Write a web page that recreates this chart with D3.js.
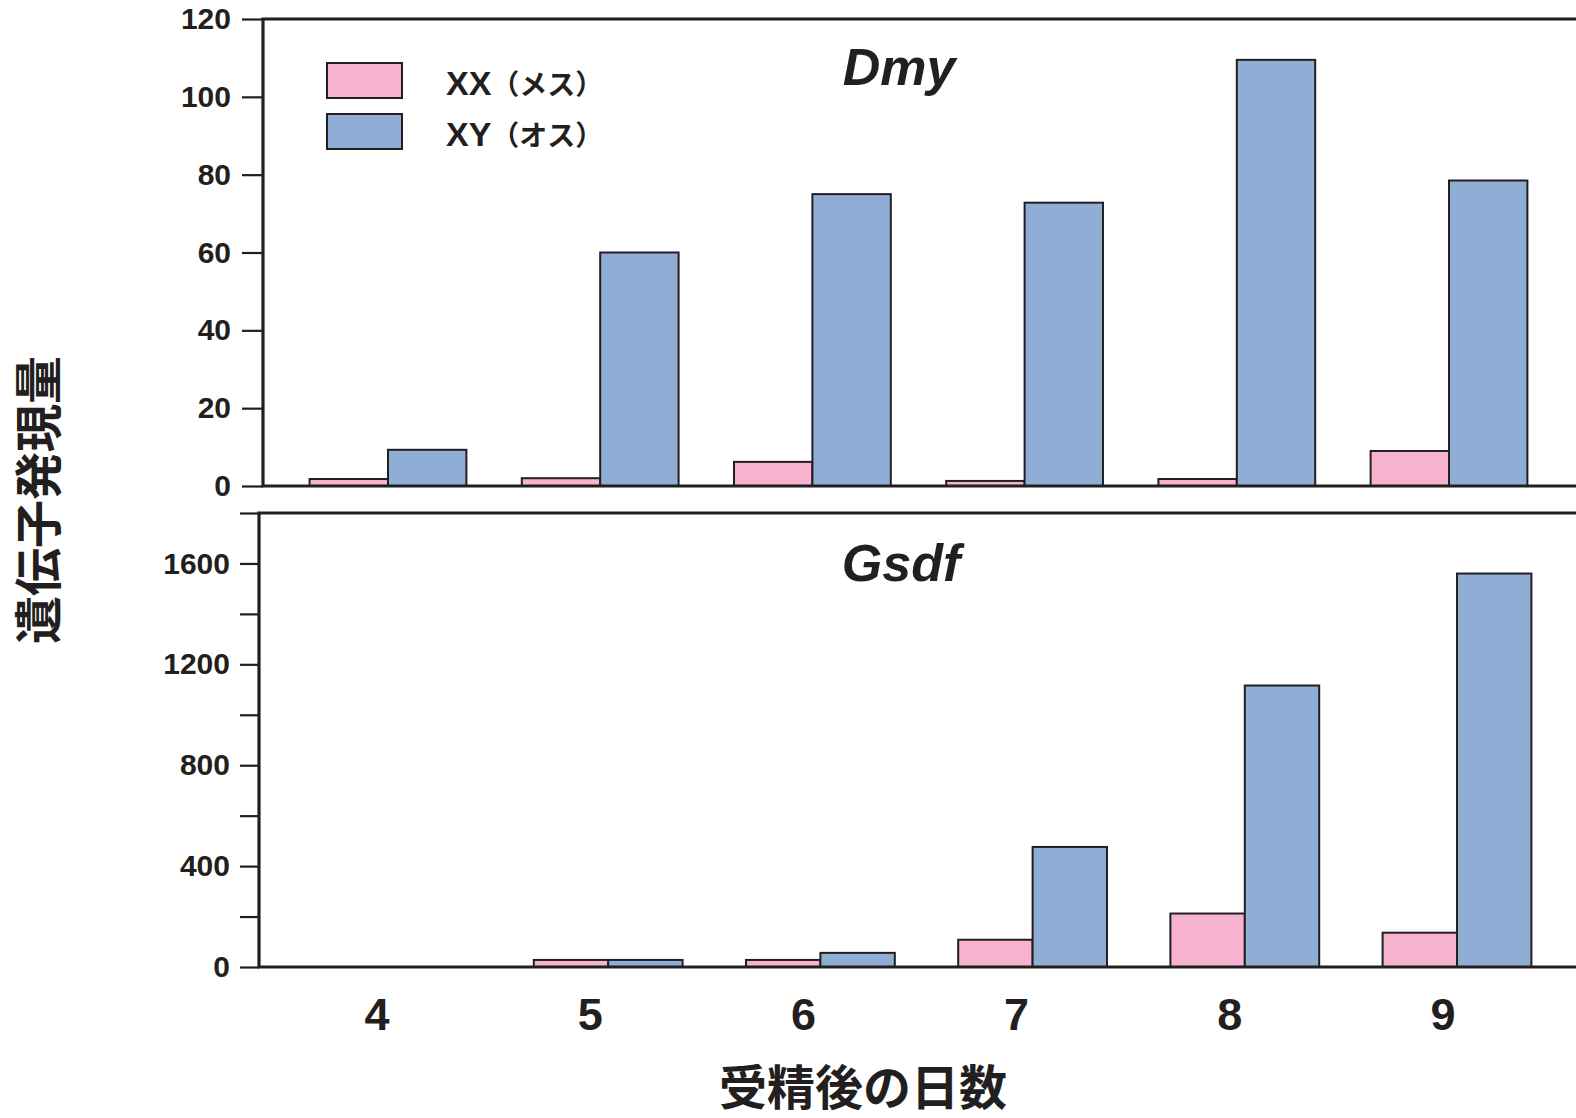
<!DOCTYPE html>
<html>
<head>
<meta charset="utf-8">
<script src="https://cdn.jsdelivr.net/npm/d3@7"></script>
<style>
  html, body { margin: 0; padding: 0; background: #fff; }
  svg { display: block; }
  text { fill: #231f20; }
</style>
</head>
<body>
<svg id="chart" width="1576" height="1118"></svg>
<script>
// ---- data ----
const days = [4, 5, 6, 7, 8, 9];
const seriesNames = ["XX（メス）", "XY（オス）"];
const dmyXX = [1.8, 2, 6.2, 1.3, 1.8, 9];
const dmyXY = [9.3, 60, 75, 72.8, 109.5, 78.5];
const gsdfXX = [0, 28, 28, 108, 212, 136];
const gsdfXY = [0, 28, 56, 476, 1116, 1560];
const dmyTicks = [0, 20, 40, 60, 80, 100, 120];
const gsdfTicks = [0, 200, 400, 600, 800, 1000, 1200, 1400, 1600, 1800];
const gsdfLabels = [0, 400, 800, 1200, 1600];

const pink = "#f6b2cf";
const blue = "#8fadd5";
const ink = "#231f20";
const latin = "'Liberation Sans', Arial, Helvetica, sans-serif";
const cjk = "'Noto Sans CJK JP', 'Noto Sans CJK SC', sans-serif";

const svg = d3.select("#chart");
const W = 1576;

function panel(cfg) {
  const g = svg.append("g");
  const x = d3.scaleLinear().domain([4, 9]).range(cfg.xRange);
  const y = d3.scaleLinear().domain(cfg.yDomain).range(cfg.yRange);
  const bw = cfg.barW;

  // bars
  const rows = days.map((d, i) => ({ d, a: cfg.xx[i], b: cfg.xy[i] }));
  g.selectAll("rect.xx").data(rows.filter(r => r.a > 0)).join("rect")
    .attr("x", r => x(r.d) - bw).attr("width", bw)
    .attr("y", r => y(r.a)).attr("height", r => y(0) - y(r.a))
    .attr("fill", pink).attr("stroke", ink).attr("stroke-width", 2);
  g.selectAll("rect.xy").data(rows.filter(r => r.b > 0)).join("rect")
    .attr("x", r => x(r.d)).attr("width", bw)
    .attr("y", r => y(r.b)).attr("height", r => y(0) - y(r.b))
    .attr("fill", blue).attr("stroke", ink).attr("stroke-width", 2);

  // axis ticks
  const ax = d3.axisLeft(y).tickValues(cfg.ticks).tickSize(cfg.tickLen).tickPadding(cfg.pad)
    .tickFormat(v => cfg.labels.includes(v) ? String(v) : "");
  const ag = g.append("g").attr("transform", `translate(${cfg.left},0)`).call(ax);
  ag.select(".domain").remove();
  ag.selectAll(".tick line").attr("stroke", ink).attr("stroke-width", 2.2);
  ag.selectAll(".tick text").attr("fill", ink)
    .style("font-family", latin).style("font-weight", "bold").style("font-size", "30px");

  // frame
  const top = cfg.yRange[1], base = cfg.yRange[0];
  g.append("path")
    .attr("d", `M${W},${top} H${cfg.left} V${base} H${W}`)
    .attr("fill", "none").attr("stroke", ink).attr("stroke-width", 3.2);

  // title
  g.append("text").attr("x", cfg.titleX).attr("y", cfg.titleY)
    .attr("text-anchor", "middle")
    .style("font-family", latin).style("font-weight", "bold").style("font-style", "italic")
    .style("font-size", "52px").text(cfg.title);
  return { x, y };
}

panel({
  xRange: [388, 1449], yDomain: [0, 120], yRange: [486, 19], barW: 78.4,
  xx: dmyXX, xy: dmyXY, ticks: dmyTicks, labels: dmyTicks,
  left: 263, tickLen: 21, pad: 11, title: "Dmy", titleX: 899, titleY: 85
});
panel({
  xRange: [396, 1457], yDomain: [0, 1800], yRange: [967, 513], barW: 74.4,
  xx: gsdfXX, xy: gsdfXY, ticks: gsdfTicks, labels: gsdfLabels,
  left: 259, tickLen: 19, pad: 10, title: "Gsdf", titleX: 901, titleY: 581
});

// x tick labels
const xl = d3.scaleLinear().domain([4, 9]).range([377, 1443]);
svg.append("g").selectAll("text").data(days).join("text")
  .attr("x", d => xl(d)).attr("y", 1030).attr("text-anchor", "middle")
  .style("font-family", latin).style("font-weight", "bold").style("font-size", "45px")
  .text(d => d);

// axis titles
svg.append("text").attr("x", 863).attr("y", 1105).attr("text-anchor", "middle")
  .style("font-family", cjk).style("font-weight", "bold").style("font-size", "48px")
  .text("受精後の日数");
svg.append("text").attr("transform", "translate(56,500) rotate(-90)").attr("text-anchor", "middle")
  .style("font-family", cjk).style("font-weight", "bold").style("font-size", "48px")
  .text("遺伝子発現量");

// legend
const leg = svg.append("g");
const legColors = [pink, blue];
seriesNames.forEach((name, i) => {
  const yy = 63 + i * 51;
  leg.append("rect").attr("x", 327).attr("y", yy).attr("width", 75).attr("height", 35)
    .attr("fill", legColors[i]).attr("stroke", ink).attr("stroke-width", 2);
  const t = leg.append("text").attr("x", 446).attr("y", yy + 32)
    .style("font-weight", "bold");
  t.append("tspan").style("font-family", latin).style("font-size", "34px").text(name.slice(0, 2));
  t.append("tspan").style("font-family", cjk).style("font-size", "28px").text(name.slice(2));
});
</script>
</body>
</html>
